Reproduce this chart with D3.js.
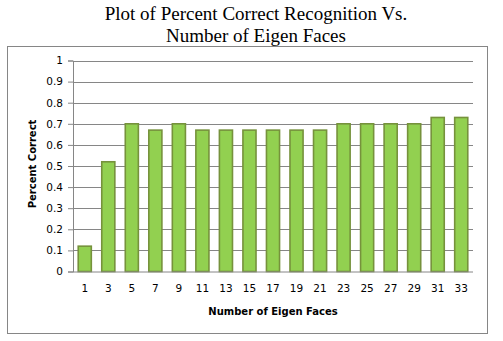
<!DOCTYPE html>
<html>
<head>
<meta charset="utf-8">
<script src="https://cdn.jsdelivr.net/npm/d3@7"></script>
<style>
  html, body { margin: 0; padding: 0; background: #fff; }
  svg { display: block; }
</style>
</head>
<body>
<svg id="chart" width="503" height="341"></svg>
<script>
// Eigen face counts and the matching recognition rates
const eigenFaces = ["1","3","5","7","9","11","13","15","17","19","21","23","25","27","29","31","33"];
const percentCorrect = [0.12,0.52,0.70,0.67,0.70,0.67,0.67,0.67,0.67,0.67,0.67,0.70,0.70,0.70,0.70,0.73,0.73];
const yTicks = [0,0.1,0.2,0.3,0.4,0.5,0.6,0.7,0.8,0.9,1];
const titleLines = ["Plot of Percent Correct Recognition Vs.", "Number of Eigen Faces"];

const svg = d3.select("#chart");
const plot = { left: 73, right: 473, top: 60.5, bottom: 271.5 };
const gridColor = "#868686";

// outer chart frame
svg.append("rect")
  .attr("x", 7.5).attr("y", 46.5).attr("width", 480).attr("height", 287)
  .attr("fill", "#fff").attr("stroke", "#868686").attr("stroke-width", 1);

// title
svg.append("g").selectAll("text").data(titleLines).join("text")
  .attr("x", 256).attr("y", (d, i) => 20 + i * 22)
  .attr("text-anchor", "middle")
  .attr("font-family", "'Liberation Serif', 'Times New Roman', serif")
  .attr("font-size", 19)
  .attr("fill", "#000")
  .text(d => d);

const x = d3.scaleBand().domain(eigenFaces).range([plot.left, plot.right]).paddingInner(0.444).paddingOuter(0.222);
const y = d3.scaleLinear().domain([0, 1]).range([plot.bottom, plot.top]);

// y axis with tick marks
const yAxis = d3.axisLeft(y).tickValues(yTicks).tickSize(5).tickPadding(5).tickFormat(d3.format("~g"));
const yg = svg.append("g").attr("transform", `translate(${plot.left},0)`).call(yAxis);
yg.select(".domain").attr("stroke", gridColor);
yg.selectAll(".tick line").attr("stroke", gridColor);
yg.selectAll(".tick text")
  .attr("font-family", "'DejaVu Sans', Verdana, sans-serif").attr("font-size", 10.5).attr("fill", "#000");

// horizontal gridlines
svg.append("g").selectAll("line").data(yTicks.filter(d => d > 0)).join("line")
  .attr("x1", plot.left).attr("x2", plot.right)
  .attr("y1", d => Math.round(y(d)) + 0.5).attr("y2", d => Math.round(y(d)) + 0.5)
  .attr("stroke", gridColor).attr("stroke-width", 1);

// bars
svg.append("g").selectAll("rect").data(percentCorrect).join("rect")
  .attr("x", (d, i) => x(eigenFaces[i]))
  .attr("y", d => y(d))
  .attr("width", x.bandwidth())
  .attr("height", d => y(0) - y(d))
  .attr("fill", "#92d050")
  .attr("stroke", "#76923c")
  .attr("stroke-width", 1.6);

// x axis (no tick marks)
const xAxis = d3.axisBottom(x).tickSize(0).tickPadding(13);
const xg = svg.append("g").attr("transform", `translate(0,${plot.bottom})`).call(xAxis);
xg.select(".domain").attr("stroke", gridColor).attr("d", `M${plot.left},0.5H${plot.right}`);
xg.selectAll(".tick text")
  .attr("font-family", "'DejaVu Sans', Verdana, sans-serif").attr("font-size", 10.5).attr("fill", "#000");

// axis titles
svg.append("text")
  .attr("x", 273).attr("y", 315)
  .attr("text-anchor", "middle")
  .attr("font-family", "'DejaVu Sans', Verdana, sans-serif")
  .attr("font-size", 10).attr("font-weight", "bold").attr("fill", "#000")
  .text("Number of Eigen Faces");

svg.append("text")
  .attr("transform", "translate(36,164) rotate(-90)")
  .attr("text-anchor", "middle")
  .attr("font-family", "'DejaVu Sans', Verdana, sans-serif")
  .attr("font-size", 10).attr("font-weight", "bold").attr("fill", "#000")
  .text("Percent Correct");
</script>
</body>
</html>
